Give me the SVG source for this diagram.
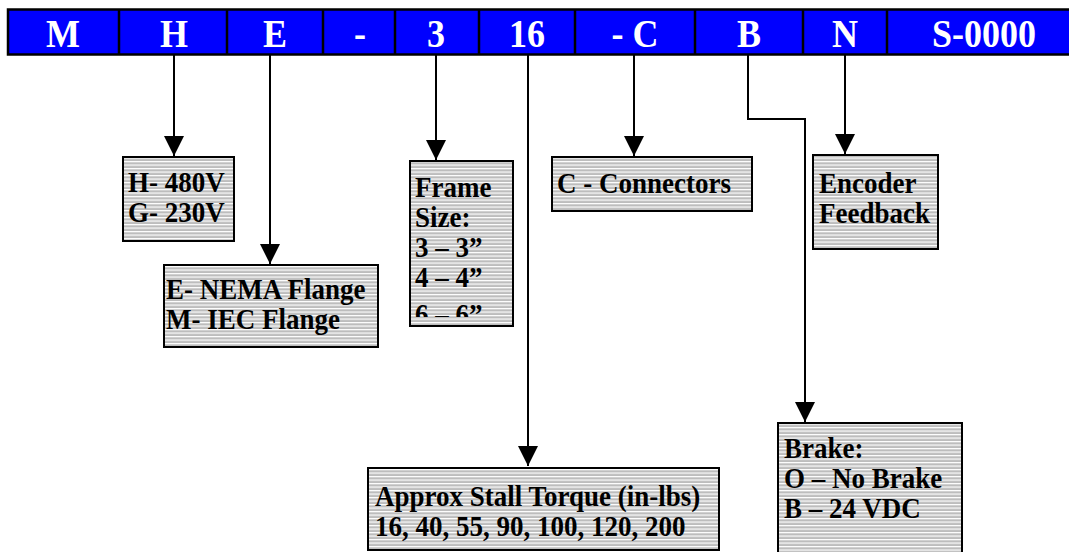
<svg xmlns="http://www.w3.org/2000/svg" width="1069" height="552" viewBox="0 0 1069 552">
<style>
.bar{fill:#0000ff;stroke:#000;stroke-width:2.5}
.div{stroke:#000;stroke-width:2.5}
.bt{font-family:"Liberation Serif","Times New Roman",serif;font-weight:bold;font-size:36px;fill:#fff;text-anchor:middle}
.box{fill:url(#stripes);stroke:#000;stroke-width:2}
.t{font-family:"Liberation Serif","Times New Roman",serif;font-weight:bold;font-size:27px;fill:#000}
.ln{fill:none;stroke:#000;stroke-width:2}
</style>
<defs>
<pattern id="stripes" patternUnits="userSpaceOnUse" width="10" height="3.5">
<rect width="10" height="3.5" fill="#bdbdbd"/>
<rect y="0" width="10" height="1.2" fill="#ffffff"/>
</pattern>
<marker id="arr" markerWidth="20" markerHeight="20" refX="20" refY="10" orient="auto" markerUnits="userSpaceOnUse">
<path d="M0,0 L20,10 L0,20 Z" fill="#000"/>
</marker>
<clipPath id="frameClip"><rect x="411" y="162" width="101" height="155"/></clipPath>
</defs>
<rect width="1069" height="552" fill="#fff"/>

<g id="header">
<rect class="bar" x="8" y="9.5" width="1075" height="45"/>
<line class="div" x1="119" y1="9.5" x2="119" y2="54.5"/>
<line class="div" x1="227" y1="9.5" x2="227" y2="54.5"/>
<line class="div" x1="323" y1="9.5" x2="323" y2="54.5"/>
<line class="div" x1="395" y1="9.5" x2="395" y2="54.5"/>
<line class="div" x1="479" y1="9.5" x2="479" y2="54.5"/>
<line class="div" x1="575" y1="9.5" x2="575" y2="54.5"/>
<line class="div" x1="695" y1="9.5" x2="695" y2="54.5"/>
<line class="div" x1="803" y1="9.5" x2="803" y2="54.5"/>
<line class="div" x1="887" y1="9.5" x2="887" y2="54.5"/>
<text class="bt" transform="translate(63,46.5) scale(1,1.11)">M</text>
<text class="bt" transform="translate(174,46.5) scale(1,1.11)">H</text>
<text class="bt" transform="translate(275,46.5) scale(1,1.11)">E</text>
<text class="bt" transform="translate(360,46.5) scale(1,1.11)">-</text>
<text class="bt" transform="translate(436,46.5) scale(1,1.11)">3</text>
<text class="bt" transform="translate(527,46.5) scale(1,1.11)">16</text>
<text class="bt" transform="translate(635,46.5) scale(1,1.11)">- C</text>
<text class="bt" transform="translate(749,46.5) scale(1,1.11)">B</text>
<text class="bt" transform="translate(845,46.5) scale(1,1.11)">N</text>
<text class="bt" transform="translate(984,46.5) scale(1,1.11)">S-0000</text>
</g>

<g id="connectors">
<path class="ln" d="M174,55 V156" marker-end="url(#arr)"/>
<path class="ln" d="M270,55 V264" marker-end="url(#arr)"/>
<path class="ln" d="M436,55 V160" marker-end="url(#arr)"/>
<path class="ln" d="M528,55 V466" marker-end="url(#arr)"/>
<path class="ln" d="M634,55 V156" marker-end="url(#arr)"/>
<path class="ln" d="M748,55 V119 H805 V422" marker-end="url(#arr)"/>
<path class="ln" d="M845,55 V154" marker-end="url(#arr)"/>
</g>

<g id="voltage">
<rect class="box" x="123" y="157" width="111" height="84"/>
<text class="t" transform="translate(128,192) scale(1,1.07)">H- 480V</text>
<text class="t" transform="translate(128,222) scale(1,1.07)">G- 230V</text>
</g>

<g id="flange">
<rect class="box" x="164" y="265" width="214" height="82"/>
<text class="t" transform="translate(166,299) scale(1,1.07)">E- NEMA Flange</text>
<text class="t" transform="translate(166,329) scale(1,1.07)">M- IEC Flange</text>
</g>

<g id="frame">
<rect class="box" x="410" y="161" width="103" height="165"/>
<g clip-path="url(#frameClip)">
<text class="t" transform="translate(415,197) scale(1,1.07)">Frame</text>
<text class="t" transform="translate(415,227) scale(1,1.07)">Size:</text>
<text class="t" transform="translate(415,257) scale(1,1.07)">3 – 3”</text>
<text class="t" transform="translate(415,287) scale(1,1.07)">4 – 4”</text>
<text class="t" transform="translate(415,324) scale(1,1.07)">6 – 6”</text>
</g>
</g>

<g id="connectorsBox">
<rect class="box" x="552" y="157" width="200" height="54"/>
<text class="t" transform="translate(557,193) scale(1,1.07)">C - Connectors</text>
</g>

<g id="encoder">
<rect class="box" x="813" y="155" width="125" height="94"/>
<text class="t" transform="translate(819,193) scale(1,1.07)">Encoder</text>
<text class="t" transform="translate(819,223) scale(1,1.07)">Feedback</text>
</g>

<g id="torque">
<rect class="box" x="368" y="468" width="351" height="82"/>
<text class="t" transform="translate(375,506) scale(1,1.07)">Approx Stall Torque (in-lbs)</text>
<text class="t" transform="translate(375,536) scale(1,1.07)">16, 40, 55, 90, 100, 120, 200</text>
</g>

<g id="brake">
<rect class="box" x="778" y="423" width="184" height="140"/>
<text class="t" transform="translate(784,458) scale(1,1.07)">Brake:</text>
<text class="t" transform="translate(784,488) scale(1,1.07)">O – No Brake</text>
<text class="t" transform="translate(784,518) scale(1,1.07)">B – 24 VDC</text>
</g>
</svg>
